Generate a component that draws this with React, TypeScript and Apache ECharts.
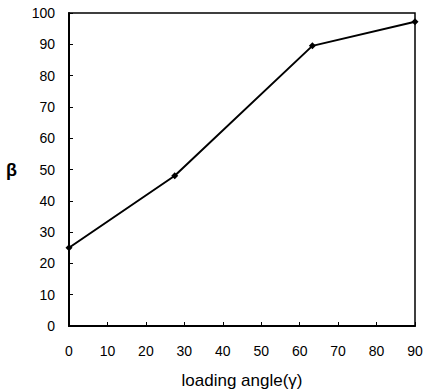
import React, { useEffect, useRef } from "react";
import * as echarts from "echarts";

const xValues = [0, 27.5, 63.3, 90];
const yValues = [25, 48, 89.5, 97.2];
const xTicks = [0, 10, 20, 30, 40, 50, 60, 70, 80, 90];
const yTicks = [0, 10, 20, 30, 40, 50, 60, 70, 80, 90, 100];

export default function App() {
  const ref = useRef<HTMLDivElement>(null);
  useEffect(() => {
    if (!ref.current) return;
    const chart = echarts.init(ref.current, null, { renderer: "svg" });
    const font = "'Liberation Sans', Arial, sans-serif";
    chart.setOption({
      animation: false,
      backgroundColor: "#ffffff",
      grid: {
        left: 69,
        right: 8,
        top: 13,
        bottom: 64,
        containLabel: false,
        outerBoundsMode: "none",
        show: true,
        borderColor: "#000",
        borderWidth: 1.5,
      },
      xAxis: {
        type: "value",
        min: xTicks[0],
        max: xTicks[xTicks.length - 1],
        interval: 10,
        name: "loading angle(γ)",
        nameLocation: "middle",
        nameGap: 46,
        nameTextStyle: { color: "#000", fontSize: 17, fontFamily: font },
        axisLine: { show: true, lineStyle: { color: "#000", width: 2 } },
        axisTick: { show: true, inside: true, length: 4, lineStyle: { color: "#000", width: 1 } },
        axisLabel: { color: "#000", fontSize: 14, fontFamily: font, margin: 18 },
        splitLine: { show: false },
      },
      yAxis: {
        type: "value",
        min: yTicks[0],
        max: yTicks[yTicks.length - 1],
        interval: 10,
        name: "β",
        nameLocation: "middle",
        nameRotate: 0,
        nameGap: 52,
        nameTextStyle: { color: "#000", fontSize: 18, fontWeight: "bold", fontFamily: font },
        axisLine: { show: true, lineStyle: { color: "#000", width: 2 } },
        axisTick: { show: true, inside: true, length: 4, lineStyle: { color: "#000", width: 1 } },
        axisLabel: { color: "#000", fontSize: 14, fontFamily: font, margin: 14 },
        splitLine: { show: false },
      },
      series: [
        {
          type: "line",
          data: xValues.map((x, i) => [x, yValues[i]]),
          symbol: "diamond",
          symbolSize: 7,
          itemStyle: { color: "#000" },
          lineStyle: { color: "#000", width: 2 },
        },
      ],
    });
    return () => chart.dispose();
  }, []);
  return (
    <div
      ref={ref}
      style={{ position: "absolute", left: 0, top: 0, width: 423, height: 390 }}
    />
  );
}
